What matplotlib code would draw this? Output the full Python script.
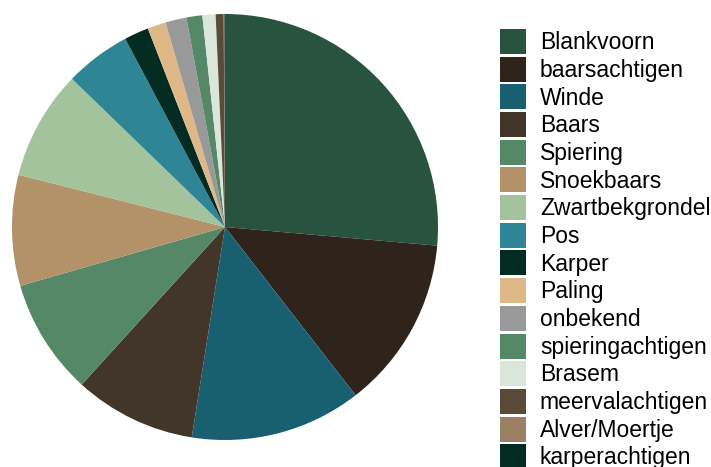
import matplotlib.pyplot as plt

soorten = ['Blankvoorn', 'baarsachtigen', 'Winde', 'Baars', 'Spiering', 'Snoekbaars',
           'Zwartbekgrondel', 'Pos', 'Karper', 'Paling', 'onbekend', 'spieringachtigen',
           'Brasem', 'meervalachtigen', 'Alver/Moertje', 'karperachtigen']
aandeel = [26.4, 13.1, 13.0, 9.25, 8.8, 8.4, 8.3, 5.0, 1.86, 1.4, 1.6, 1.2,
           1.0, 0.6, 0.06, 0.04]
kleuren = ['#27533F', '#2E241C', '#186070', '#42362A', '#558866', '#B39169',
           '#A2C39C', '#2D8595', '#022C22', '#DEB887', '#999999', '#558866',
           '#DAE6D9', '#5A4A38', '#9B7F62', '#022C22']

plt.rcParams['font.family'] = ['Liberation Sans', 'DejaVu Sans']

fig = plt.figure(figsize=(7.11, 4.67), dpi=100)
ax = fig.add_axes([12 / 711, 27 / 467, 426 / 711, 426 / 467])
wedges, _ = ax.pie(aandeel, colors=kleuren, startangle=90, counterclock=False,
                   wedgeprops={'linewidth': 0})
ax.set_xlim(-1, 1)
ax.set_ylim(-1, 1)
ax.set_aspect('equal')
ax.axis('off')

fig.legend(wedges, soorten, loc='upper left', bbox_to_anchor=(500 / 711, 1 - 29 / 467),
           frameon=False, fontsize=16.5, borderpad=0, borderaxespad=0,
           handlelength=1.14, handleheight=1.3, handletextpad=0.6, labelspacing=0.11)

fig.savefig('out.png', dpi=100)
